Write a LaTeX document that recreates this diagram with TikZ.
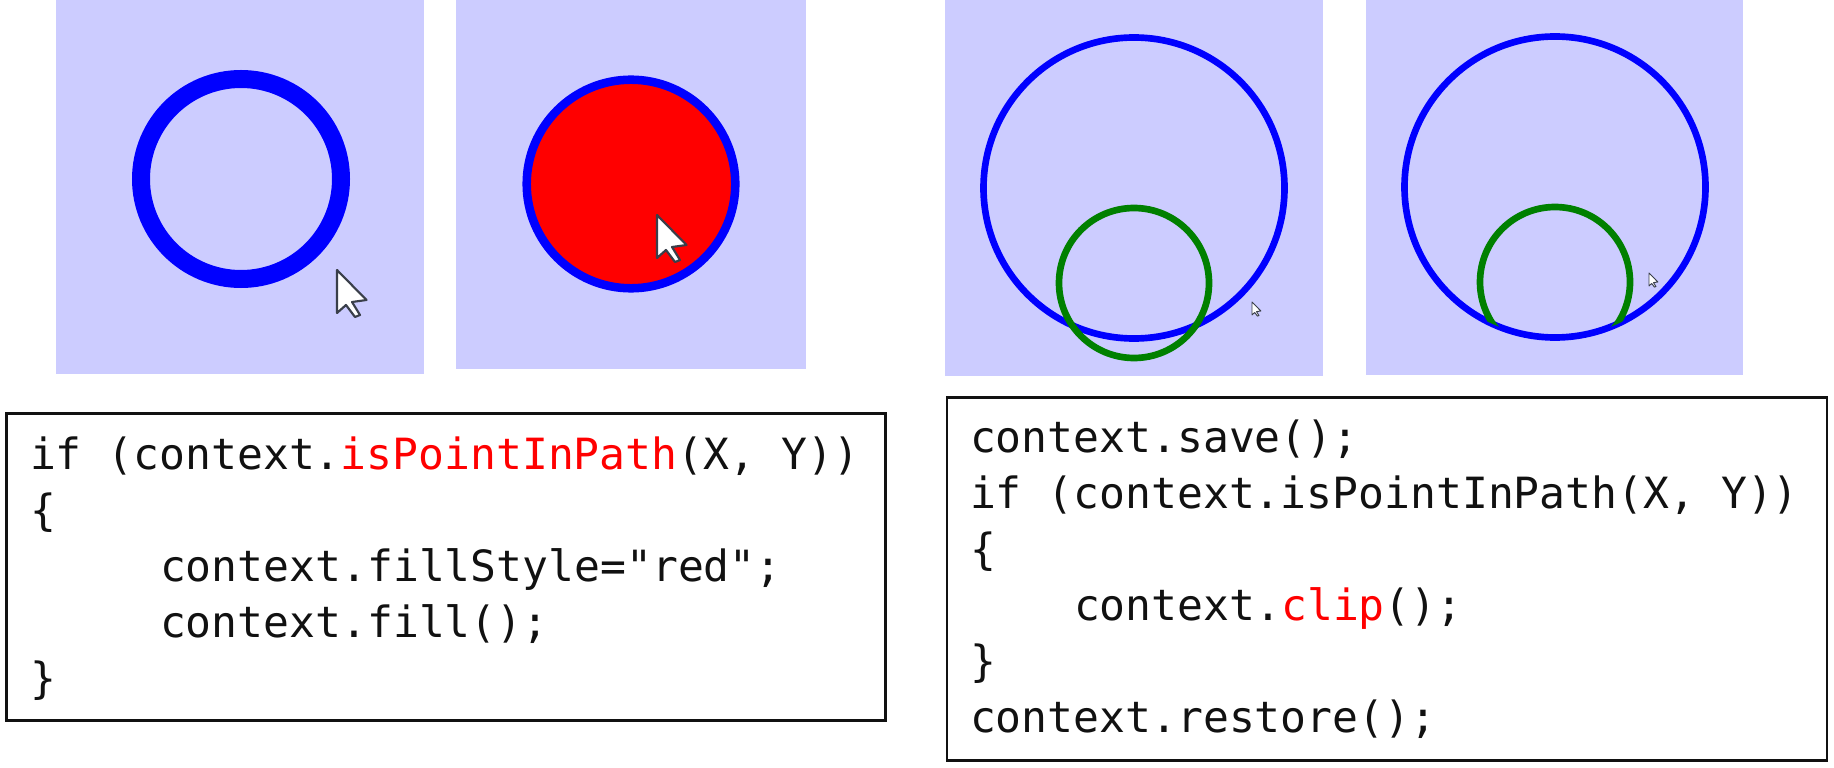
\documentclass[tikz,border=0pt]{standalone}
\usepackage{fontspec}
\newfontfamily\codefont{DejaVu Sans Mono}
\definecolor{panelc}{HTML}{CCCCFF}
\definecolor{ringb}{HTML}{0000FF}
\definecolor{ringg}{HTML}{008000}
\definecolor{fillr}{HTML}{FF0000}
\definecolor{inkc}{HTML}{111111}
\definecolor{cursorc}{HTML}{3A3F4A}
\tikzset{
  panel/.style={fill=panelc,draw=none},
  bluering/.style={draw=ringb,line width=#1},
  greenring/.style={draw=ringg,line width=5pt},
  codebox/.style={draw=inkc,line width=2.1pt,fill=white},
  code/.style={anchor=base west,inner sep=0pt,outer sep=0pt,text=inkc,font=\codefont\fontsize{32.27pt}{32.27pt}\selectfont},
  bigcursor/.pic={
    \fill[white,draw=cursorc,line width=1.6pt,line join=round]
      (0,0)--(29.5,30)--(15,32)--(23,45)--(18,47)--(9,35)--(0,43)--cycle;
  },
  smallcursor/.pic={
    \fill[white,draw=cursorc,line width=0.7pt,line join=round]
      (0,0)--(29.5,30)--(15,32)--(23,45)--(18,47)--(9,35)--(0,43)--cycle;
  }
}
\begin{document}
\begin{tikzpicture}[x=0.75pt,y=-0.75pt]
\useasboundingbox (0,0) rectangle (1834,767.5);
% panels
\path[panel] (56,0) rectangle (424,374);
\path[panel] (456,0) rectangle (806,369.5);
\path[panel] (945,0) rectangle (1323,376);
\path[panel] (1366,0) rectangle (1743,375);
% panel 1
\draw[bluering=13.5pt] (241,179) circle [radius=100];
\pic at (337,270) {bigcursor};
% panel 2
\draw[bluering=6.4pt,fill=fillr] (631,184) circle [radius=104.3];
\pic at (657,215) {bigcursor};
% panel 3
\draw[bluering=5pt] (1134,188) circle [radius=150.5];
\draw[greenring] (1134,283) circle [radius=75];
\pic[scale=0.3] at (1252,302) {smallcursor};
% panel 4
\draw[bluering=5pt] (1555,187) circle [radius=150.5];
\begin{scope}
  \clip (1555,187) circle [radius=150.5];
  \draw[greenring] (1555,282) circle [radius=75];
\end{scope}
\pic[scale=0.3] at (1649,273) {smallcursor};
% left code box
\node[codebox,anchor=north west,minimum width=659.5pt,minimum height=230.5pt,inner sep=0pt] (boxL) at (5,412) {};
\node[code] (l1) at (30,469) {if (context.\textcolor{fillr}{isPointInPath}(X, Y))};
\node[code] (l2) at (30,525) {\{};
\node[code] (l3) at (160,581) {context.fillStyle="red";};
\node[code] (l4) at (160,637) {context.fill();};
\node[code] (l5) at (30,693) {\}};
% right code box
\node[codebox,anchor=north west,minimum width=660pt,minimum height=272.5pt,inner sep=0pt] (boxR) at (945.5,396) {};
\node[code] (r1) at (970,452) {context.save();};
\node[code] (r2) at (970,508) {if (context.isPointInPath(X, Y))};
\node[code] (r3) at (970,564) {\{};
\node[code] (r4) at (1074,620) {context.\textcolor{fillr}{clip}();};
\node[code] (r5) at (970,676) {\}};
\node[code] (r6) at (970,732) {context.restore();};
\end{tikzpicture}
\end{document}
